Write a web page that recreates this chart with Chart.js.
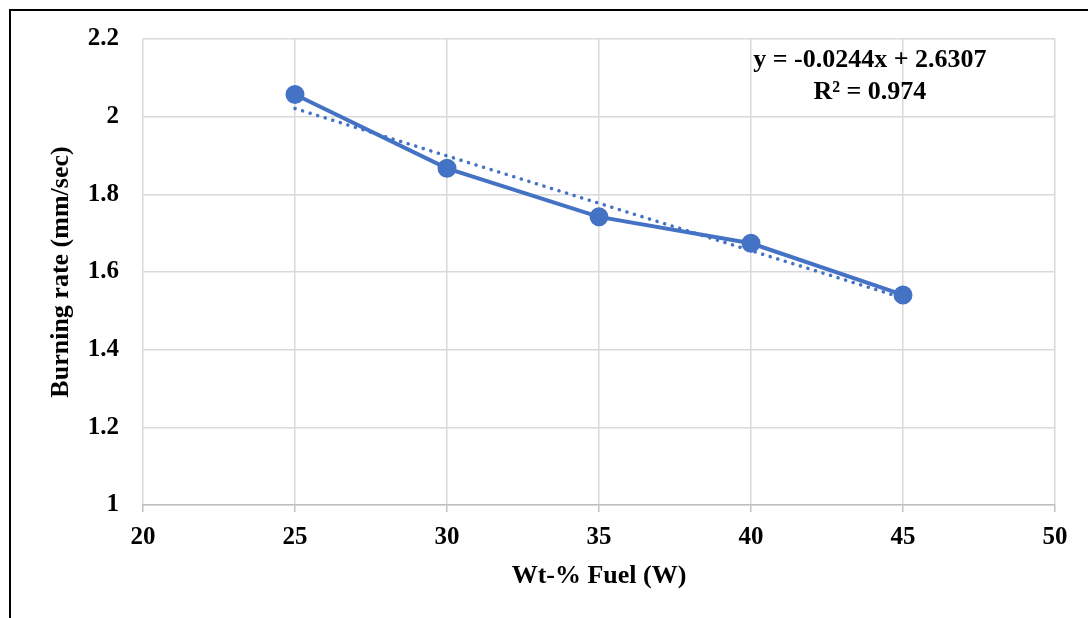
<!DOCTYPE html>
<html>
<head>
<meta charset="utf-8">
<script src="https://cdn.jsdelivr.net/npm/chart.js@4"></script>
<style>
  html, body { margin: 0; padding: 0; background: #fff; }
  #wrap { position: relative; width: 1088px; height: 618px; overflow: hidden; }
  #frame { position: absolute; left: 9px; top: 9px; width: 1200px; height: 700px;
           border-left: 2px solid #000; border-top: 2px solid #000; }
  canvas { position: absolute; left: 0; top: 0; }
</style>
</head>
<body>
<div id="wrap">
  <div id="frame"></div>
  <canvas id="lineChart" width="1088" height="618"></canvas>
</div>
<script>
var fuelWt = [25, 30, 35, 40, 45];
var burnRate = [2.057, 1.867, 1.742, 1.674, 1.541];
var trendX = [25, 45];
var trendY = [2.021, 1.533];
var eqLines = ["y = -0.0244x + 2.6307", "R\u00b2 = 0.974"];

var blue = "#4472C4";
var fontFam = "'Liberation Serif', 'Times New Roman', serif";

var eqLabel = {
    id: "eqLabel",
    afterDatasetsDraw: function (chart) {
        var ctx = chart.ctx, a = chart.chartArea;
        var cx = a.left + (a.right - a.left) * 0.797;
        ctx.save();
        ctx.font = "bold 26px " + fontFam;
        ctx.fillStyle = "#000";
        ctx.textAlign = "center";
        ctx.textBaseline = "middle";
        ctx.fillText(eqLines[0], cx, a.top + 21);
        ctx.fillText(eqLines[1], cx, a.top + 53);
        ctx.restore();
    }
};

var ctxL = document.getElementById("lineChart").getContext('2d');
var myLineChart = new Chart(ctxL, {
    type: 'scatter',
    data: {
        datasets: [{
                data: fuelWt.map(function (x, i) { return {x: x, y: burnRate[i]}; }),
                showLine: true,
                borderColor: blue,
                backgroundColor: blue,
                borderWidth: 4,
                pointRadius: 7.5,
                pointHoverRadius: 7.5,
                order: 1
            }, {
                data: trendX.map(function (x, i) { return {x: x, y: trendY[i]}; }),
                showLine: true,
                borderColor: blue,
                borderWidth: 3.5,
                borderDash: [0.1, 7.8],
                borderCapStyle: 'round',
                pointRadius: 0,
                order: 2
            }]
    },
    options: {
        responsive: false,
        animation: false,
        layout: {padding: {left: 0, top: 39, right: 33, bottom: 0}},
        plugins: {legend: {display: false}, tooltip: {enabled: false}},
        scales: {
            x: {
                type: 'linear',
                min: 20, max: 50,
                border: {color: '#bfbfbf', width: 1.5},
                grid: {color: '#d9d9d9', lineWidth: 1.5, tickLength: 7, tickColor: '#bfbfbf'},
                ticks: {stepSize: 5, padding: 11, color: '#000',
                    font: {family: fontFam, size: 25, weight: 'bold'}},
                title: {display: true, text: 'Wt-% Fuel (W)', color: '#000',
                    padding: {top: 0, bottom: 26},
                    font: {family: fontFam, size: 26, weight: 'bold'}},
                afterFit: function (s) { s.height = 113; }
            },
            y: {
                min: 1, max: 2.2,
                border: {display: false},
                grid: {color: '#d9d9d9', lineWidth: 1.5, drawTicks: false},
                ticks: {stepSize: 0.2, padding: 24, color: '#000',
                    callback: function (v) { return Math.round(v * 10) / 10; },
                    font: {family: fontFam, size: 25, weight: 'bold'}},
                title: {display: true, text: 'Burning rate (mm/sec)', color: '#000',
                    padding: {top: 46, bottom: 0},
                    font: {family: fontFam, size: 26, weight: 'bold'}},
                afterFit: function (s) { s.width = 143; }
            }
        }
    },
    plugins: [eqLabel]
});
</script>
</body>
</html>
